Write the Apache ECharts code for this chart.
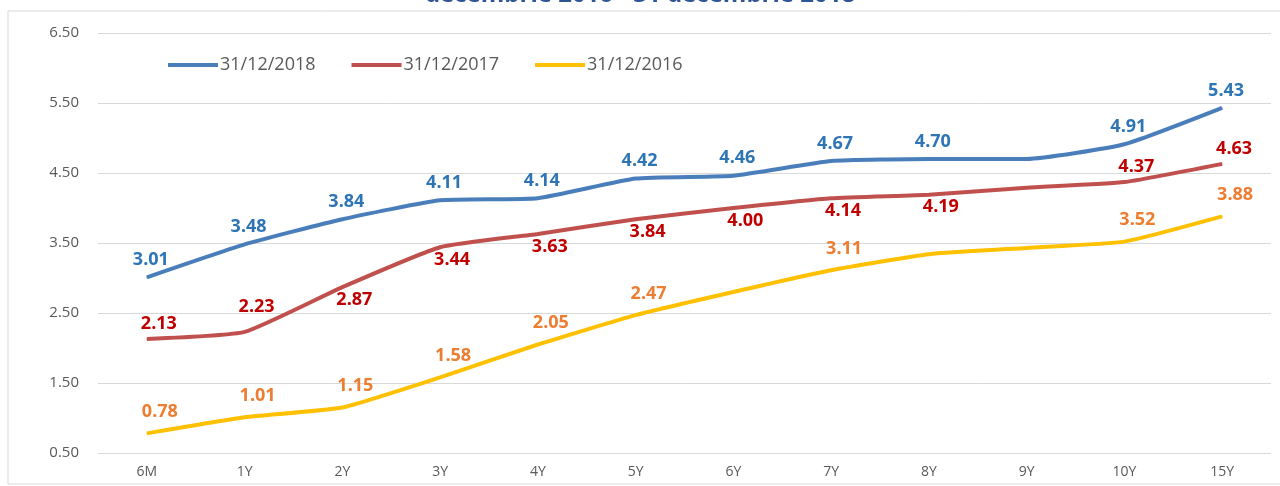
<!DOCTYPE html>
<html>
<head>
<meta charset="utf-8">
<script src="https://cdn.jsdelivr.net/npm/echarts@6/dist/echarts.min.js"></script>
<style>
  html, body { margin: 0; padding: 0; background: #fff; }
  #chart { width: 1280px; height: 486px; }
</style>
</head>
<body>
<div id="chart"></div>
<script>
// tenors on the x axis
const categories = ['6M', '1Y', '2Y', '3Y', '4Y', '5Y', '6Y', '7Y', '8Y', '9Y', '10Y', '15Y']
const yTicks = [0.5, 1.5, 2.5, 3.5, 4.5, 5.5, 6.5]

const curve2018 = [3.01, 3.48, 3.84, 4.11, 4.14, 4.42, 4.46, 4.67, 4.70, 4.70, 4.91, 5.43]
const curve2017 = [2.13, 2.23, 2.87, 3.44, 3.63, 3.84, 4.00, 4.14, 4.19, 4.29, 4.37, 4.63]
const curve2016 = [0.78, 1.01, 1.15, 1.58, 2.05, 2.47, 2.80, 3.11, 3.34, 3.43, 3.52, 3.88]

// points that have no data label in the original
const noLabel2018 = [9]
const noLabel2017 = [9]
const noLabel2016 = [6, 8, 9]
// red labels sitting above the line (others below)
const above2017 = [0, 1, 10, 11]

const labelFont = 'Open Sans'

function points(values, hidden, posFn) {
  return values.map((v, i) => {
    const item = { value: v }
    if (hidden.indexOf(i) >= 0) item.label = { show: false }
    else if (posFn) item.label = posFn(i)
    return item
  })
}

function lineSeries(name, color, values, label, hidden, posFn) {
  return {
    name: name,
    type: 'line',
    smooth: 0.15,
    symbol: 'circle',
    symbolSize: 1,
    showSymbol: true,
    lineStyle: { color: color, width: 4 },
    itemStyle: { color: color },
    label: Object.assign({
      show: true,
      fontSize: 18,
      fontWeight: 'bold',
      fontFamily: labelFont,
      formatter: p => p.value.toFixed(2)
    }, label),
    data: points(values, hidden, posFn)
  }
}

const chart = echarts.init(document.getElementById('chart'))

const option = {
  animation: false,
  textStyle: { fontFamily: labelFont },
  title: {
    text: 'decembrie 2016 - 31 decembrie 2018',
    left: 'center',
    top: -22,
    textStyle: { color: '#2F5597', fontSize: 24, fontWeight: 'bold', fontFamily: labelFont }
  },
  graphic: [{
    type: 'rect',
    shape: { x: 8, y: 11, width: 1300, height: 473 },
    style: { fill: 'none', stroke: '#d9d9d9', lineWidth: 1 },
    silent: true
  }],
  legend: {
    top: 51,
    left: 163,
    itemWidth: 50,
    itemHeight: 4,
    itemGap: 36,
    icon: 'rect',
    textStyle: { color: '#595959', fontSize: 18, fontFamily: labelFont, padding: [0, 0, 0, -3] },
    data: ['31/12/2018', '31/12/2017', '31/12/2016']
  },
  grid: {
    left: 98,
    right: 9,
    top: 33,
    bottom: 33
  },
  xAxis: {
    type: 'category',
    data: categories,
    boundaryGap: true,
    axisLine: { show: false },
    axisTick: { show: false },
    axisLabel: { color: '#595959', fontSize: 14, margin: 12 }
  },
  yAxis: {
    type: 'value',
    min: yTicks[0],
    max: yTicks[yTicks.length - 1],
    interval: 1,
    axisLine: { show: false },
    axisTick: { show: false },
    splitLine: { lineStyle: { color: '#d9d9d9', width: 1 } },
    axisLabel: {
      color: '#595959',
      fontSize: 15,
      margin: 19,
      formatter: v => v.toFixed(2)
    }
  },
  series: [
    lineSeries('31/12/2018', '#4A7EBB', curve2018,
      { position: 'top', distance: 8, offset: [4, 0], color: '#2E75B6' }, noLabel2018),
    lineSeries('31/12/2017', '#C0504D', curve2017,
      { color: '#C00000', offset: [12, 0] }, noLabel2017,
      i => (above2017.indexOf(i) >= 0
        ? { position: 'top', distance: i === 1 ? 16 : 6 }
        : { position: 'bottom', distance: 3 })),
    lineSeries('31/12/2016', '#FFC000', curve2016,
      { position: 'top', distance: 12, offset: [13, 0], color: '#ED7D31' }, noLabel2016)
  ]
}

chart.setOption(option)
</script>
</body>
</html>
